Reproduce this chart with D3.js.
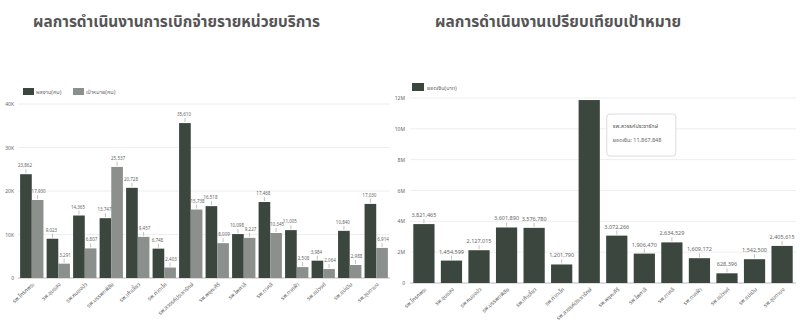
<!DOCTYPE html>
<html>
<head>
<meta charset="utf-8">
<script src="https://cdn.jsdelivr.net/npm/d3@7"></script>
<style>
  body { margin: 0; background: #fff; }
  svg { display: block; font-family: "Noto Sans Thai", "Noto Sans", "DejaVu Sans", sans-serif; }
</style>
</head>
<body>
<svg id="chart" width="800" height="335"></svg>
<script>
// หน่วยบริการ (ใช้ร่วมกันทั้งสองกราฟ)
const units = [
  "รพ.โกรกพระ", "รพ.ชุมแสง", "รพ.หนองบัว", "รพ.บรรพตพิสัย", "รพ.เก้าเลี้ยว",
  "รพ.ท่าตะโก", "รพ.สวรรค์ประชารักษ์", "รพ.พยุหะคีรี", "รพ.ไพศาลี", "รพ.ตาคลี",
  "รพ.ตากฟ้า", "รพ.แม่วงก์", "รพ.แม่เปิน", "รพ.ชุมตาบง"
];

// กราฟซ้าย
const seriesLeft = ["ผลงาน(คน)", "เป้าหมาย(คน)"];
const resultPeople = [23862, 9023, 14365, 13747, 20728, 6748, 35610, 16518, 10098, 17468, 11005, 3984, 10840, 17030];
const targetPeople = [17930, 3291, 6807, 25537, 9457, 2403, 15738, 8009, 9227, 10345, 2508, 2064, 2988, 6914];
const leftTicks = [0, 10000, 20000, 30000, 40000];
const leftTickLabels = ["0", "10K", "20K", "30K", "40K"];

// กราฟขวา
const seriesRight = ["ยอดเงิน(บาท)"];
const amountBaht = [3821465, 1454599, 2127015, 3601890, 3576780, 1201790, 11867848, 3072266, 1906470, 2634529, 1609172, 628396, 1542500, 2405615];
const rightTicks = [0, 2e6, 4e6, 6e6, 8e6, 10e6, 12e6];
const rightTickLabels = ["0", "2M", "4M", "6M", "8M", "10M", "12M"];

const dark = "#3a463e";
const light = "#8b908c";
const fmt = d3.format(",");

const svg = d3.select("#chart");

// ===== ชื่อกราฟ =====
svg.append("text")
  .attr("x", 33).attr("y", 27)
  .attr("font-size", 15).attr("font-weight", "bold").attr("fill", "#555")
  .attr("textLength", 287).attr("lengthAdjust", "spacingAndGlyphs")
  .text("ผลการดำเนินงานการเบิกจ่ายรายหน่วยบริการ");

svg.append("text")
  .attr("x", 435).attr("y", 27)
  .attr("font-size", 15).attr("font-weight", "bold").attr("fill", "#555")
  .attr("textLength", 246).attr("lengthAdjust", "spacingAndGlyphs")
  .text("ผลการดำเนินงานเปรียบเทียบเป้าหมาย");

// ===== กราฟซ้าย =====
const xL = d3.scaleBand().domain(units).range([18, 390]).paddingInner(0.12).paddingOuter(0.08);
const xL2 = d3.scaleBand().domain([0, 1]).range([0, xL.bandwidth()]);
const yL = d3.scaleLinear().domain([0, 40000]).range([278, 104]);

const gL = svg.append("g");

gL.selectAll(".grid").data(leftTicks).join("line")
  .attr("x1", 18).attr("x2", 390)
  .attr("y1", d => yL(d)).attr("y2", d => yL(d))
  .attr("stroke", d => d === 0 ? "#bbb" : "#eeeeee");

gL.selectAll(".ytick").data(leftTicks).join("text")
  .attr("x", 14).attr("y", d => yL(d) + 2)
  .attr("text-anchor", "end").attr("font-size", 5).attr("fill", "#666")
  .text((d, i) => leftTickLabels[i]);

const leftRows = units.map((u, i) => [
  { unit: u, k: 0, v: resultPeople[i] },
  { unit: u, k: 1, v: targetPeople[i] }
]).flat();

gL.selectAll(".bar").data(leftRows).join("rect")
  .attr("x", d => xL(d.unit) + xL2(d.k))
  .attr("width", xL2.bandwidth())
  .attr("y", d => yL(d.v))
  .attr("height", d => yL(0) - yL(d.v))
  .attr("fill", d => d.k === 0 ? dark : light);

// เส้นนำ + ค่า
const cxL = d => xL(d.unit) + xL2(d.k) + xL2.bandwidth() / 2;

gL.selectAll(".lead").data(leftRows).join("line")
  .attr("x1", cxL).attr("x2", cxL)
  .attr("y1", d => yL(d.v) - 1).attr("y2", d => yL(d.v) - 5)
  .attr("stroke", "#999").attr("stroke-width", 0.6);

gL.selectAll(".val").data(leftRows).join("text")
  .attr("x", d => cxL(d) + (d.k === 1 ? 1 : -1))
  .attr("y", d => yL(d.v) - 7)
  .attr("text-anchor", "middle").attr("font-size", 4.5).attr("fill", "#666")
  .text(d => fmt(d.v));

gL.selectAll(".xlab").data(units).join("text")
  .attr("transform", d => `translate(${xL(d) + xL.bandwidth() / 2 + 3},${yL(0) + 7}) rotate(-42)`)
  .attr("text-anchor", "end").attr("font-size", 5.5).attr("fill", "#666")
  .text(d => d);

// legend ซ้าย
const legL = gL.selectAll(".leg").data(seriesLeft).join("g")
  .attr("transform", (d, i) => `translate(${23 + i * 50},88)`);
legL.append("rect").attr("width", 11).attr("height", 7)
  .attr("fill", (d, i) => i === 0 ? dark : light);
legL.append("text").attr("x", 13).attr("y", 6)
  .attr("font-size", 5.5).attr("fill", "#666").text(d => d);

// ===== กราฟขวา =====
const xR = d3.scaleBand().domain(units).range([410, 796]).paddingInner(0.23).paddingOuter(0.12);
const yR = d3.scaleLinear().domain([0, 12e6]).range([283, 98]);

const gR = svg.append("g");

gR.selectAll(".grid").data(rightTicks).join("line")
  .attr("x1", 410).attr("x2", 796)
  .attr("y1", d => yR(d)).attr("y2", d => yR(d))
  .attr("stroke", d => d === 0 ? "#bbb" : "#eeeeee");

gR.selectAll(".ytick").data(rightTicks).join("text")
  .attr("x", 405).attr("y", d => yR(d) + 2)
  .attr("text-anchor", "end").attr("font-size", 5).attr("fill", "#666")
  .text((d, i) => rightTickLabels[i]);

gR.selectAll(".bar").data(amountBaht).join("rect")
  .attr("x", (d, i) => xR(units[i]))
  .attr("width", xR.bandwidth())
  .attr("y", d => yR(d))
  .attr("height", d => yR(0) - yR(d))
  .attr("fill", dark);

// ค่าของแท่งสูงสุดแสดงใน tooltip แทน
const iMax = d3.maxIndex(amountBaht);
const rightRows = amountBaht.map((v, i) => ({ unit: units[i], v })).filter((d, i) => i !== iMax);

gR.selectAll(".lead").data(rightRows).join("line")
  .attr("x1", d => xR(d.unit) + xR.bandwidth() / 2)
  .attr("x2", d => xR(d.unit) + xR.bandwidth() / 2)
  .attr("y1", d => yR(d.v) - 1).attr("y2", d => yR(d.v) - 5)
  .attr("stroke", "#999").attr("stroke-width", 0.6);

gR.selectAll(".val").data(rightRows).join("text")
  .attr("x", d => xR(d.unit) + xR.bandwidth() / 2)
  .attr("y", d => yR(d.v) - 7)
  .attr("text-anchor", "middle").attr("font-size", 5.5).attr("fill", "#666")
  .text(d => fmt(d.v));

gR.selectAll(".xlab").data(units).join("text")
  .attr("transform", d => `translate(${xR(d) + xR.bandwidth() / 2 + 3},${yR(0) + 7}) rotate(-42)`)
  .attr("text-anchor", "end").attr("font-size", 5.5).attr("fill", "#666")
  .text(d => d);

// legend ขวา
const legR = gR.append("g").attr("transform", "translate(412,83)");
legR.append("rect").attr("width", 12).attr("height", 8).attr("fill", dark);
legR.append("text").attr("x", 15).attr("y", 6.5)
  .attr("font-size", 5.5).attr("fill", "#666").text(seriesRight[0]);

// tooltip ของแท่งสูงสุด
const tipX = xR(units[iMax]) + xR.bandwidth() + 7;
const tipY = yR(amountBaht[iMax]) + 14;
const tip = gR.append("g").attr("transform", `translate(${tipX},${tipY})`);
tip.append("rect").attr("width", 69).attr("height", 42).attr("rx", 3)
  .attr("fill", "#fff").attr("stroke", "#ddd");
tip.append("text").attr("x", 6).attr("y", 14)
  .attr("font-size", 5.5).attr("fill", "#555").text(units[iMax]);
tip.append("text").attr("x", 6).attr("y", 28)
  .attr("font-size", 5.5).attr("fill", "#666").text("ยอดเงิน: " + fmt(amountBaht[iMax]));
</script>
</body>
</html>
